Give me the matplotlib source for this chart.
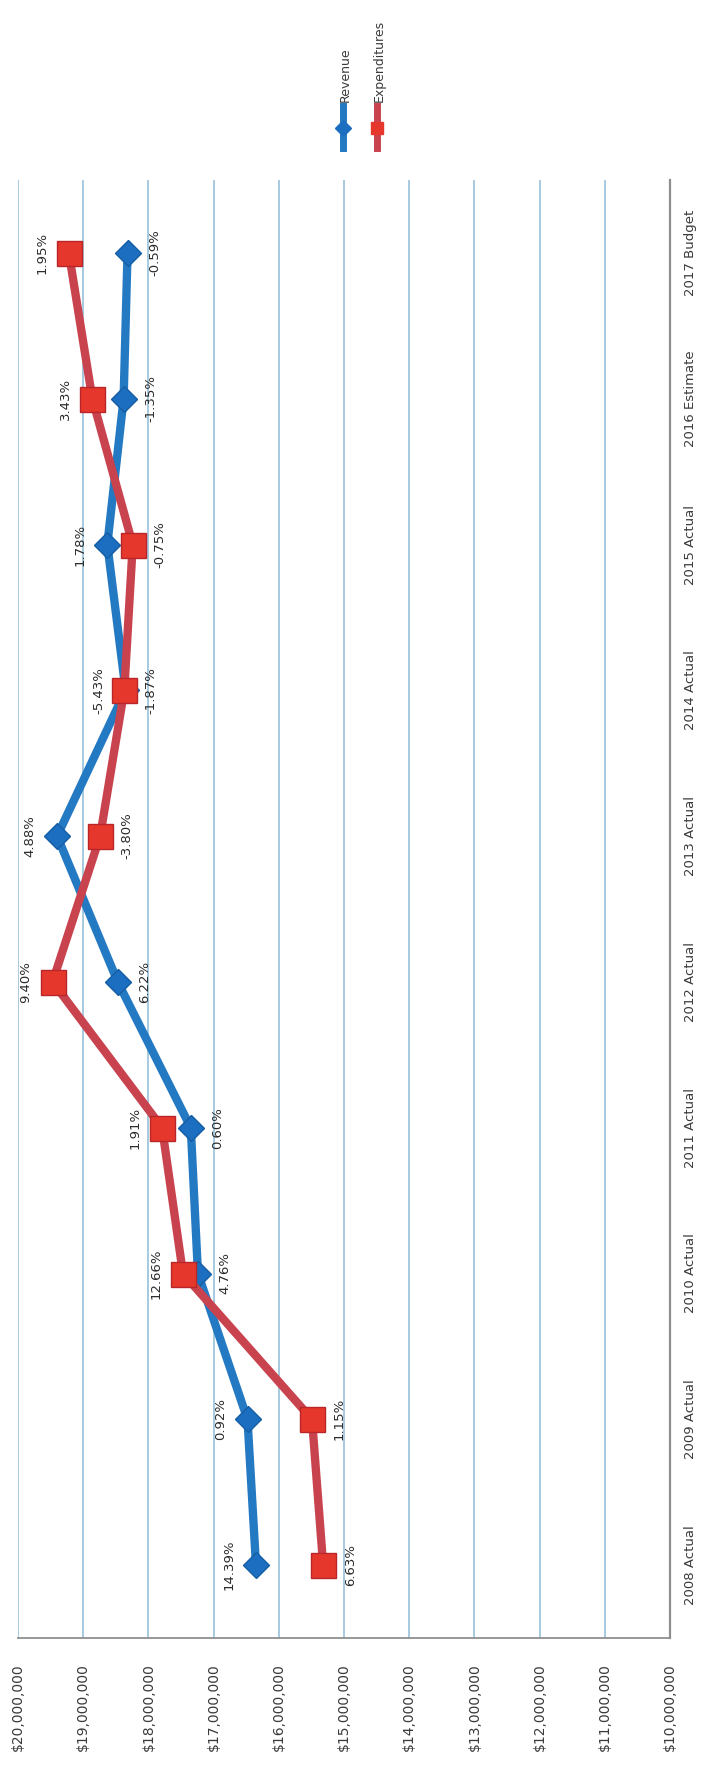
import numpy as np
import matplotlib.pyplot as plt
from matplotlib.lines import Line2D
from matplotlib.ticker import FuncFormatter

# fiscal years, bottom to top
years = ["2008 Actual", "2009 Actual", "2010 Actual", "2011 Actual", "2012 Actual",
         "2013 Actual", "2014 Actual", "2015 Actual", "2016 Estimate", "2017 Budget"]

# dollars
revenue = [16350000, 16480000, 17240000, 17350000, 18470000,
           19400000, 18350000, 18630000, 18380000, 18320000]
expenditures = [15320000, 15490000, 17470000, 17790000, 19470000,
                18740000, 18370000, 18240000, 18860000, 19220000]

# year-over-year change labels
revenue_pct = ["14.39%", "0.92%", "4.76%", "0.60%", "6.22%",
               "4.88%", "-5.43%", "1.78%", "-1.35%", "-0.59%"]
expenditures_pct = ["6.63%", "1.15%", "12.66%", "1.91%", "9.40%",
                    "-3.80%", "-1.87%", "-0.75%", "3.43%", "1.95%"]

value_ticks = np.arange(10000000, 20000001, 1000000)

BLUE_LINE = "#2479c3"
BLUE_MARK = "#1c6fc0"
RED_LINE = "#c9434f"
RED_MARK = "#e5372c"
GRID = "#9fc6dc"
AXIS = "#8f8f8f"
TEXT = "#3a3a3a"

plt.rcParams['font.family'] = ['DejaVu Sans']

W, H = 713, 1775
fig = plt.figure(figsize=(W / 100, H / 100), dpi=100)
fig.patch.set_facecolor('white')

# the chart is laid out sideways: values run right-to-left, years bottom-to-top
left, right, top, bottom = 18, 670, 180, 1638
ax = fig.add_axes([left / W, 1 - bottom / H, (right - left) / W, (bottom - top) / H])
ax.set_xlim(20000000, 10000000)
ax.set_ylim(-0.5, len(years) - 0.5)

ypos = np.arange(len(years))

ax.set_xticks(value_ticks)
ax.xaxis.set_major_formatter(FuncFormatter(lambda v, p: f"${v:,.0f}"))
ax.grid(axis='x', color=GRID, linewidth=1.3)
ax.set_axisbelow(True)
ax.tick_params(axis='x', length=0, pad=18, labelrotation=90, labelsize=10, labelcolor=TEXT)
for lab in ax.get_xticklabels():
    lab.set_va('top')

ax.set_yticks(ypos)
ax.set_yticklabels(years)
ax.yaxis.tick_right()
ax.tick_params(axis='y', length=0, pad=10, labelsize=9.5, labelcolor=TEXT)
for lab in ax.get_yticklabels():
    lab.set_rotation(90)
    lab.set_va('center')
    lab.set_ha('left')

for side in ['top', 'left']:
    ax.spines[side].set_visible(False)
ax.spines['bottom'].set_color(AXIS)
ax.spines['right'].set_color(AXIS)
ax.spines['bottom'].set_linewidth(1.3)
ax.spines['right'].set_linewidth(1.6)

ax.plot(revenue, ypos, color=BLUE_LINE, linewidth=6, marker='D', markersize=13,
        markerfacecolor=BLUE_MARK, markeredgecolor="#155ea3", markeredgewidth=1,
        solid_joinstyle='miter', zorder=3)
ax.plot(expenditures, ypos, color=RED_LINE, linewidth=6, marker='s', markersize=18,
        markerfacecolor=RED_MARK, markeredgecolor="#b8262a", markeredgewidth=1,
        solid_joinstyle='miter', zorder=4)

# data labels sit to one side of the point (-1 = left, 1 = right)
rev_side = [-1, -1, 1, 1, 1, -1, -1, -1, 1, 1]
exp_side = [1, 1, -1, -1, -1, 1, 1, 1, -1, -1]
for vals, pcts, sides in [(revenue, revenue_pct, rev_side),
                          (expenditures, expenditures_pct, exp_side)]:
    for v, y, t, s in zip(vals, ypos, pcts, sides):
        ax.annotate(t, (v, y), xytext=(27 * s, 0), textcoords='offset pixels',
                    rotation=90, ha='center', va='center', fontsize=9.5,
                    color="#2b2b2b", zorder=5)

# legend, turned with the chart
legend_items = [("Revenue", 343, BLUE_LINE, 'D', BLUE_MARK, 8),
                ("Expenditures", 377, RED_LINE, 's', RED_MARK, 8)]
for name, x, lc, mk, mc, ms in legend_items:
    fx = x / W
    fig.add_artist(Line2D([fx, fx], [1 - 148 / H, 1 - 106 / H], color=lc,
                          linewidth=5, transform=fig.transFigure))
    fig.add_artist(Line2D([fx], [1 - 128 / H], marker=mk, markersize=ms,
                          markerfacecolor=mc, markeredgecolor=mc,
                          transform=fig.transFigure))
    fig.text(fx + 2 / W, 1 - 102 / H, name, rotation=90, ha='center', va='bottom',
             fontsize=9, color=TEXT)

fig.savefig("out.png", dpi=100, facecolor='white')
